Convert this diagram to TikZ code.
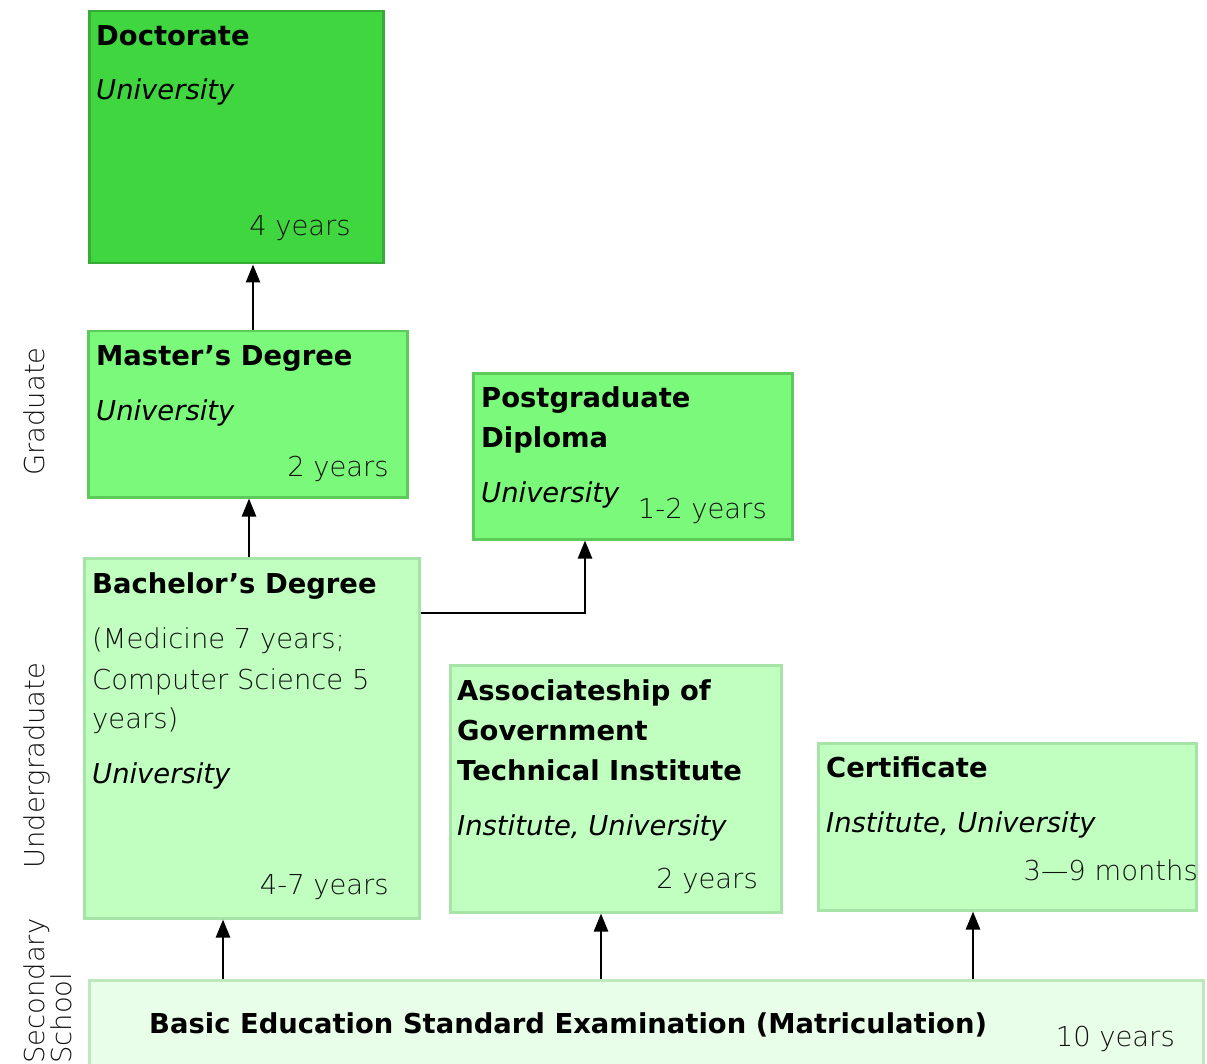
\documentclass[tikz,border=0pt]{standalone}
\usepackage{fontspec}
\setmainfont{DejaVu Sans}
\newfontfamily\lightfont{DejaVu Sans ExtraLight}
\usetikzlibrary{arrows.meta}
\definecolor{docfill}{HTML}{3FD63F}
\definecolor{docdraw}{HTML}{38AA38}
\definecolor{grfill}{HTML}{7AF97A}
\definecolor{grdraw}{HTML}{5CCB5C}
\definecolor{ugfill}{HTML}{C0FFC0}
\definecolor{ugdraw}{HTML}{A6E3A6}
\definecolor{basefill}{HTML}{E9FEE9}
\definecolor{basedraw}{HTML}{BCE8BC}
\definecolor{textgray}{HTML}{111111}
\begin{document}
\begin{tikzpicture}[x=1pt,y=-1pt,
  box/.style={draw, line width=2.5pt, anchor=north west, inner sep=0pt, rectangle},
  ttl/.style={anchor=base west, inner sep=0pt, font=\fontsize{27.4}{32}\selectfont\bfseries},
  inst/.style={anchor=base west, inner sep=0pt, font=\fontsize{27.4}{32}\selectfont\itshape},
  dur/.style={anchor=base east, inner sep=0pt, text=textgray, font=\fontsize{27.4}{32}\selectfont\lightfont},
  plain/.style={anchor=base west, inner sep=0pt, text=textgray, font=\fontsize{27.4}{32}\selectfont\lightfont},
  side/.style={anchor=base west, inner sep=0pt, rotate=90, text=textgray, font=\fontsize{27.4}{32}\selectfont\lightfont},
  arr/.style={line width=2.5pt, -{Triangle[width=14pt,length=18pt]}}
]
\useasboundingbox (0,0) rectangle (1207,1064);
\begin{scope}
\clip (0,0) rectangle (1207,1064);
% boxes
\node[box, fill=docfill, draw=docdraw, minimum width=294pt, minimum height=252pt] (doc) at (88,10) {};
\node[box, fill=grfill, draw=grdraw, minimum width=319pt, minimum height=166pt] (mas) at (87,330) {};
\node[box, fill=grfill, draw=grdraw, minimum width=319pt, minimum height=166pt] (pg) at (472,372) {};
\node[box, fill=ugfill, draw=ugdraw, minimum width=335pt, minimum height=360pt] (bach) at (83,557) {};
\node[box, fill=ugfill, draw=ugdraw, minimum width=331pt, minimum height=247pt] (asso) at (449,664) {};
\node[box, fill=ugfill, draw=ugdraw, minimum width=378pt, minimum height=167pt] (cert) at (817,742) {};
\node[box, fill=basefill, draw=basedraw, minimum width=1114pt, minimum height=95pt] (base) at (88,979) {};

% side labels
\node[side] (lgrad) at (44,476) {Graduate};
\node[side] (lug) at (44,869) {Undergraduate};
\node[side] (lsec1) at (44,1064) {Secondary};
\node[side] (lsec2) at (71,1064) {School};
\end{scope}

% doctorate
\node[ttl] (t1) at (96,46) {Doctorate};
\node[inst] (i1) at (96,100) {University};
\node[dur] (d1) at (351,236) {4 years};
% master
\node[ttl] (t2) at (96,366) {Master’s Degree};
\node[inst] (i2) at (96,420) {University};
\node[dur] (d2) at (389,476) {2 years};
% postgrad
\node[ttl] (t3a) at (481,407) {Postgraduate};
\node[ttl] (t3b) at (481,447) {Diploma};
\node[inst] (i3) at (481,502) {University};
\node[dur] (d3) at (767,518) {1-2 years};
% bachelor
\node[ttl] (t4) at (92,593) {Bachelor’s Degree};
\node[plain] (p4a) at (92,648) {(Medicine 7 years;};
\node[plain] (p4b) at (92,689) {Computer Science 5};
\node[plain] (p4c) at (92,728) {years)};
\node[inst] (i4) at (92,783) {University};
\node[dur] (d4) at (389,894) {4-7 years};
% associateship
\node[ttl] (t5a) at (457,700) {Associateship of};
\node[ttl] (t5b) at (457,740) {Government};
\node[ttl] (t5c) at (457,780) {Technical Institute};
\node[inst] (i5) at (457,835) {Institute, University};
\node[dur] (d5) at (758,888) {2 years};
% certificate
\node[ttl] (t6) at (826,777) {Certificate};
\node[inst] (i6) at (826,832) {Institute, University};
\node[dur] (d6) at (1198,880) {3—9 months};
% base
\node[ttl] (t7) at (149,1033) {Basic Education Standard Examination (Matriculation)};
\node[dur] (d7) at (1175,1046) {10 years};

% arrows
\draw[arr] ([xshift=166pt]mas.north west) -- ([xshift=165pt]doc.south west);
\draw[arr] ([xshift=166pt]bach.north west) -- ([xshift=162pt]mas.south west);
\draw[arr] ([yshift=-56pt]bach.north east) -| ([xshift=113pt]pg.south west);
\draw[arr] ([xshift=135pt]base.north west) -- ([xshift=140pt]bach.south west);
\draw[arr] ([xshift=513pt]base.north west) -- ([xshift=152pt]asso.south west);
\draw[arr] ([xshift=885pt]base.north west) -- ([xshift=156pt]cert.south west);
\end{tikzpicture}
\end{document}
